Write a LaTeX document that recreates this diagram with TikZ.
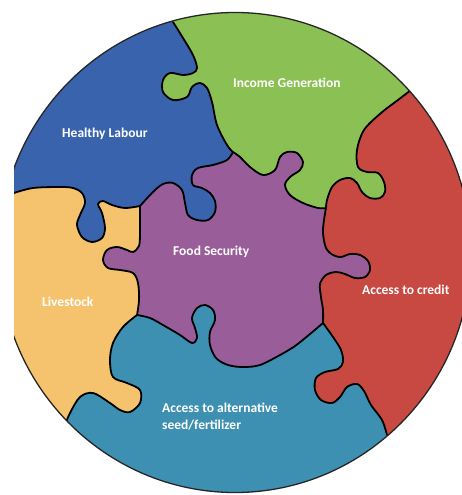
\documentclass[tikz,border=0pt]{standalone}
\usepackage{fontspec}
\setmainfont{Carlito}
\usepackage{tikz}
\definecolor{labourblue}{RGB}{58,99,173}
\definecolor{incomegreen}{RGB}{139,192,85}
\definecolor{creditred}{RGB}{200,72,66}
\definecolor{seedteal}{RGB}{61,144,178}
\definecolor{livestockyellow}{RGB}{245,195,110}
\definecolor{foodpurple}{RGB}{153,94,153}
\tikzset{
    seam/.style={draw=black, line width=1.8pt, line join=round, line cap=round},
    rim/.style={draw=black!85, line width=1.3pt},
    piecetext/.style={text=white, inner sep=0pt, anchor=base west, font=\bfseries\fontsize{13.5pt}{17pt}\selectfont},
    % seams between the pieces
    livestockseed/.style={insert path={-- plot[smooth, tension=0.55] coordinates {(65,425) (70,413) (80,397) (93,393) (110,403) (120,410) (130,412) (140,403) (140,390) (127,383) (113,377) (110,360) (113,343) (123,327) (137,315)}}},
    foodseed/.style={insert path={-- plot[smooth, tension=0.55] coordinates {(137,315) (150,318) (163,325) (180,335) (192,343) (197,338) (195,328) (192,318) (197,308) (205,305) (213,310) (215,320) (210,332) (210,345) (216,358) (228,365) (243,367) (260,365) (280,355) (295,346) (310,334) (323,323)}}},
    foodcredit/.style={insert path={-- plot[smooth, tension=0.55] coordinates {(323,323) (323,310) (321,297) (320,284) (326,275) (336,272) (345,274) (355,278) (365,277) (370,270) (368,261) (360,255) (350,254) (341,257) (333,255) (326,248) (323,233) (324,220) (326,208)}}},
    creditseed/.style={insert path={-- plot[smooth, tension=0.55] coordinates {(323,323) (333,337) (341,350) (343,362) (338,369) (325,372) (316,378) (315,390) (321,400) (332,403) (340,397) (347,387) (357,384) (364,391) (371,405) (382,420) (387,435)}}},
    incomecredit/.style={insert path={-- plot[smooth, tension=0.55] coordinates {(326,208) (327,200) (332,187) (340,180) (350,178) (357,183) (362,192) (370,198) (380,198) (385,192) (384,182) (378,173) (367,172) (358,167) (357,150) (364,130) (381,113) (398,100) (411,90)}}},
    incomefood/.style={insert path={-- plot[smooth, tension=0.55] coordinates {(326,208) (318,208) (303,203) (290,195) (285,185) (290,177) (300,170) (303,162) (297,153) (287,152) (280,157) (275,170) (263,175) (250,167) (240,157) (233,152)}}},
    labourincome/.style={insert path={-- plot[smooth, tension=0.55] coordinates {(233,152) (227,145) (217,125) (212,102) (207,88) (200,83) (192,87) (187,97) (173,100) (163,92) (163,80) (170,73) (183,75) (193,73) (197,68) (193,55) (183,38) (173,22)}}},
    labourfood/.style={insert path={-- plot[smooth, tension=0.55] coordinates {(233,152) (227,160) (213,165) (198,168) (192,175) (193,185) (202,188) (210,193) (215,201) (215,212) (208,220) (197,220) (188,215) (185,203) (182,190) (173,183) (163,184) (153,192) (140,206)}}},
    labourlivestock/.style={insert path={-- plot[smooth, tension=0.55] coordinates {(140,206) (125,208) (112,205) (103,201) (98,204) (102,213) (105,228) (102,238) (92,242) (82,237) (77,225) (80,215) (85,203) (82,193) (73,188) (60,187) (33,188) (14,193)}}},
    livestockfood/.style={insert path={-- plot[smooth, tension=0.55] coordinates {(140,206) (140,217) (140,233) (139,246) (133,252) (127,250) (117,247) (107,250) (103,260) (108,268) (120,270) (133,273) (138,283) (139,300) (137,315)}}}
}

\begin{document}
\begin{tikzpicture}[x=1pt, y=-1pt]
    \useasboundingbox (0,0) rectangle (462,495);

    \begin{scope}
        \clip (14,0) rectangle (462,495);
        \clip (235,252.5) ellipse [x radius=236pt, y radius=240pt];

        % pieces, painted in layers
        \fill[seedteal] (0,0) rectangle (462,495);
        \fill[creditred] (40,450) [livestockseed] [foodseed] [creditseed] -- (400,470) -- (480,470) -- (480,-20) -- (-20,-20) -- (-20,450) -- cycle;
        \fill[incomegreen] (40,450) [livestockseed] [foodseed] [foodcredit] [incomecredit] -- (430,70) -- (430,-20) -- (-20,-20) -- (-20,450) -- cycle;
        \fill[labourblue] (40,450) [livestockseed] [foodseed] [foodcredit] [incomefood] [labourincome] -- (168,-20) -- (-20,-20) -- (-20,450) -- cycle;
        \fill[livestockyellow] (40,450) [livestockseed] [foodseed] [foodcredit] [incomefood] [labourfood] [labourlivestock] -- (-20,196) -- (-20,450) -- cycle;
        \fill[foodpurple] (137,315) [foodseed] [foodcredit] [incomefood] [labourfood] [livestockfood] -- cycle;

        % seams
        \draw[seam] (65,425) [livestockseed];
        \draw[seam] (137,315) [foodseed];
        \draw[seam] (323,323) [foodcredit];
        \draw[seam] (323,323) [creditseed];
        \draw[seam] (326,208) [incomecredit];
        \draw[seam] (326,208) [incomefood];
        \draw[seam] (233,152) [labourincome];
        \draw[seam] (233,152) [labourfood];
        \draw[seam] (140,206) [labourlivestock];
        \draw[seam] (140,206) [livestockfood];
    \end{scope}

    \begin{scope}
        \clip (14,0) rectangle (462,495);
        \draw[rim] (235,252.5) ellipse [x radius=236pt, y radius=240pt];
    \end{scope}

    % labels
    \node[piecetext] (labour) at (62,137) {Healthy Labour};
    \node[piecetext] (income) at (233,88) {Income Generation};
    \node[piecetext] (food) at (173,255) {Food Security};
    \node[piecetext] (credit) at (362,294) {Access to credit};
    \node[piecetext] (livestock) at (42,306) {Livestock};
    \node[piecetext, align=left] (seed) at (162,429) {Access to alternative\\seed/fertilizer};

\end{tikzpicture}
\end{document}
